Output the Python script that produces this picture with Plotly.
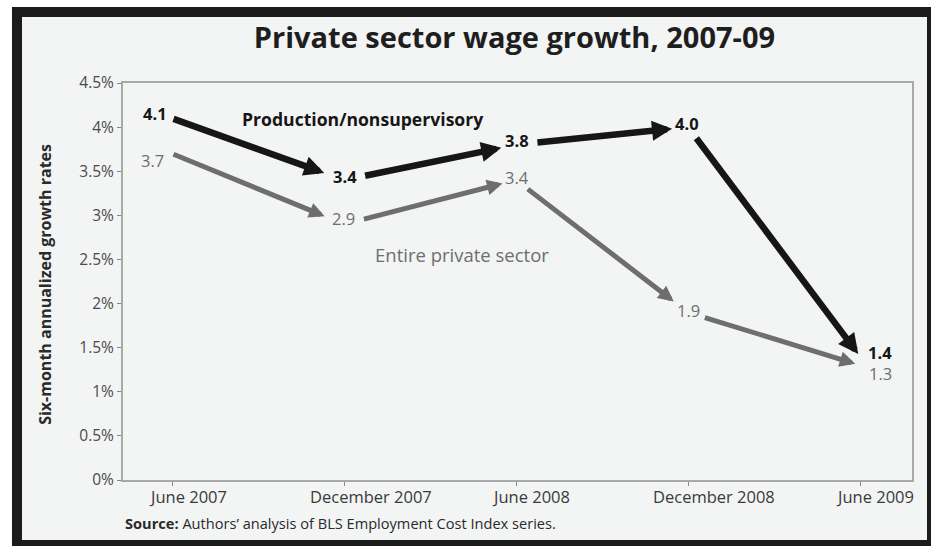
import plotly.graph_objects as go

# ---- data ----
periods = ["June 2007", "December 2007", "June 2008", "December 2008", "June 2009"]
production = [4.1, 3.4, 3.8, 4.0, 1.4]
entire = [3.7, 2.9, 3.4, 1.9, 1.3]
title_text = "Private sector wage growth, 2007-09"
yaxis_title = "Six-month annualized growth rates"
source_text = "<b>Source:</b> Authors’ analysis of BLS Employment Cost Index series."
series_names = ["Production/nonsupervisory", "Entire private sector"]

# ---- styles ----
FONT = "Open Sans"
BLACK = "#161616"
GRAY = "#6e6e6e"
LIGHT = "#f3f4f4"

# arrow standoffs (px) for each segment: (start, end)
prod_start = [0, 20, 20, 12]
prod_end = [21, 15, 16, 3]
ent_start = [0, 19, 13, 16]
ent_end = [21, 14, 18, 5]

# label offsets (px) relative to the data point
prod_dx = [-17, 1, 1, -1, 20]
prod_dy = [5, 4, 4, 4, 4]
ent_dx = [-20, -1, 1, 0, 20]
ent_dy = [-7, 6, 3, 2, -8]

# x tick label horizontal offsets
tick_dx = [16, 27, 15, 26, 15]

idx = list(range(len(periods)))

fig = go.Figure()
# invisible traces to establish axes
fig.add_trace(go.Scatter(x=idx, y=production, mode="markers", marker=dict(opacity=0),
                         hoverinfo="skip", showlegend=False))
fig.add_trace(go.Scatter(x=idx, y=entire, mode="markers", marker=dict(opacity=0),
                         hoverinfo="skip", showlegend=False))

annotations = []


def add_arrows(vals, color, width, starts, ends):
    for i in range(len(vals) - 1):
        annotations.append(dict(
            x=idx[i + 1], y=vals[i + 1], ax=idx[i], ay=vals[i],
            xref="x", yref="y", axref="x", ayref="y",
            text="", showarrow=True, arrowhead=2, arrowsize=0.62,
            arrowwidth=width, arrowcolor=color,
            startstandoff=starts[i], standoff=ends[i]))


def add_labels(vals, color, bold, dxs, dys):
    for i, v in enumerate(vals):
        t = f"{v:.1f}"
        annotations.append(dict(
            x=idx[i], y=v, xref="x", yref="y",
            text=f"<b>{t}</b>" if bold else t, showarrow=False,
            xanchor="center", yanchor="middle",
            xshift=dxs[i], yshift=dys[i],
            font=dict(family=FONT, size=16.5, color=color)))


add_arrows(entire, GRAY, 5, ent_start, ent_end)
add_arrows(production, BLACK, 6.5, prod_start, prod_end)
add_labels(production, BLACK, True, prod_dx, prod_dy)
add_labels(entire, GRAY, False, ent_dx, ent_dy)

# series names
annotations.append(dict(x=0.304, y=0.909, xref="paper", yref="paper", showarrow=False,
                        xanchor="center", yanchor="middle",
                        text=f"<b>{series_names[0]}</b>",
                        font=dict(family=FONT, size=17.6, color=BLACK)))
annotations.append(dict(x=0.4297, y=0.569, xref="paper", yref="paper", showarrow=False,
                        xanchor="center", yanchor="middle",
                        text=series_names[1],
                        font=dict(family=FONT, size=18.5, color=GRAY)))

# x tick labels
for i, p in enumerate(periods):
    annotations.append(dict(x=idx[i], y=0, xref="x", yref="paper", showarrow=False,
                            text=p, xanchor="center", yanchor="middle",
                            xshift=tick_dx[i], yshift=-16,
                            font=dict(family=FONT, size=16.5, color="#3a3a3a")))

# y axis title
annotations.append(dict(x=-0.0989, y=0.494, xref="paper", yref="paper", showarrow=False,
                        xanchor="center", yanchor="middle",
                        text=f"<b>{yaxis_title}</b>", textangle=-90,
                        font=dict(family=FONT, size=16, color="#2a2a2a")))

# source
annotations.append(dict(x=0, y=-0.108, xref="paper", yref="paper", showarrow=False,
                        text=source_text, xanchor="left", yanchor="middle",
                        font=dict(family=FONT, size=14.6, color="#2a2a2a")))

shapes = [
    dict(type="rect", xref="paper", yref="paper", x0=-0.1407, x1=1.03, y0=-0.17, y1=1.1914,
         fillcolor="#1b1b1b", line=dict(width=0), layer="below"),
    dict(type="rect", xref="paper", yref="paper", x0=-0.128, x1=1.019, y0=-0.1511, y1=1.1662,
         fillcolor=LIGHT, line=dict(width=0), layer="below"),
]

fig.update_layout(
    width=931, height=546,
    margin=dict(l=123, r=19, t=83, b=66),
    paper_bgcolor="white",
    plot_bgcolor="rgba(0,0,0,0)",
    showlegend=False,
    title=dict(text=f"<b>{title_text}</b>", x=0.5526, xref="container", xanchor="center",
               y=0.930, yref="container", yanchor="middle",
               font=dict(family=FONT, size=29, color="#1e1e1e")),
    annotations=annotations,
    shapes=shapes,
    xaxis=dict(range=[-0.285, 4.302], tickvals=idx, showticklabels=False,
               ticks="outside", ticklen=4, tickcolor="#888", tickwidth=1,
               showline=True, linecolor="#a9a9a9", linewidth=2, mirror=True,
               showgrid=False, zeroline=False, fixedrange=True),
    yaxis=dict(range=[0, 4.5], dtick=0.5, tick0=0, ticksuffix="%",
               ticks="outside", ticklen=4, tickcolor="#888", tickwidth=1,
               tickfont=dict(family=FONT, size=15.5, color="#4a4a4a"),
               showline=True, linecolor="#a9a9a9", linewidth=2, mirror=True,
               showgrid=False, zeroline=False, fixedrange=True),
)

fig.write_html("out.html")
